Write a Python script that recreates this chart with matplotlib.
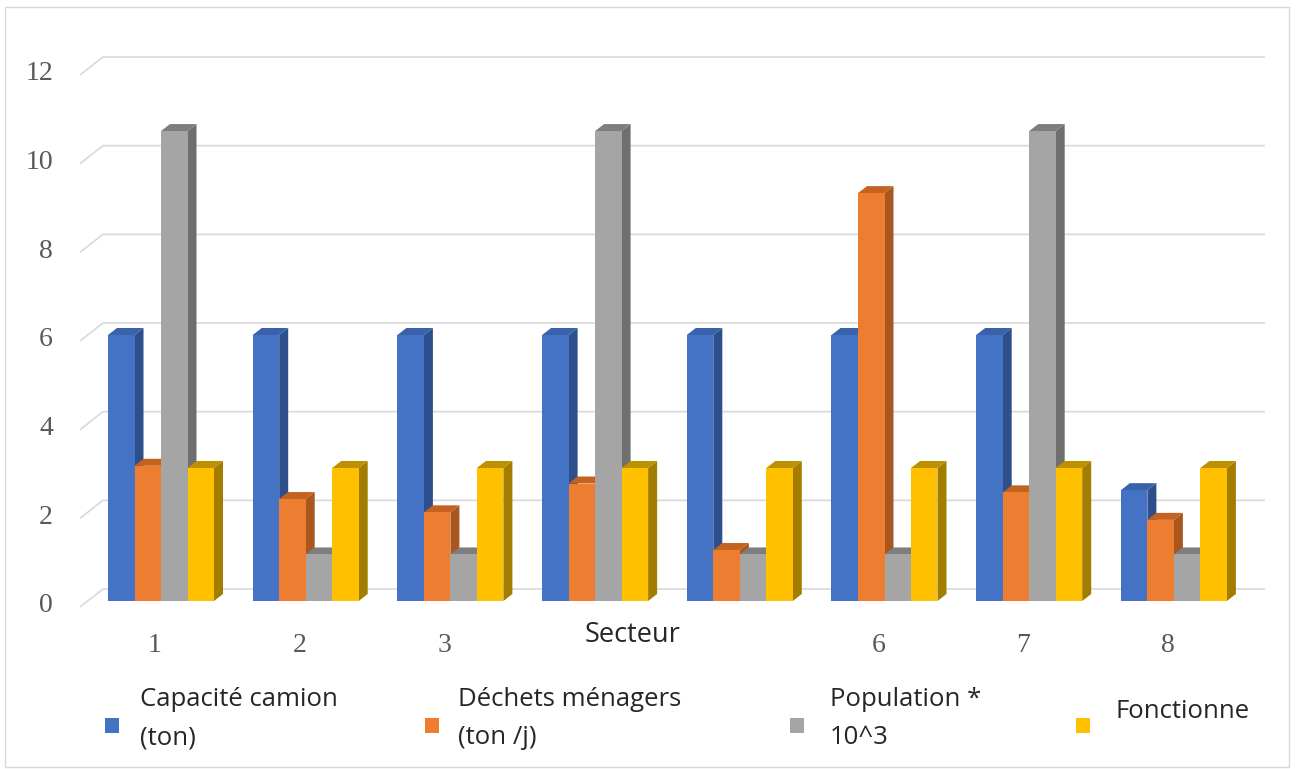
import matplotlib
matplotlib.use("Agg")
import matplotlib.pyplot as plt
from matplotlib.patches import Polygon, Rectangle
from matplotlib.transforms import offset_copy

# ---- data ----
sectors = ["1", "2", "3", "4", "5", "6", "7", "8"]
capacite = [6, 6, 6, 6, 6, 6, 6, 2.5]
dechets = [3.05, 2.3, 2.0, 2.65, 1.15, 9.2, 2.45, 1.83]
population = [10.6, 1.05, 1.05, 10.6, 1.05, 1.05, 10.6, 1.05]
fonctionne = [3, 3, 3, 3, 3, 3, 3, 3]

series = [capacite, dechets, population, fonctionne]
series_labels = ["Capacité camion\n(ton)", "Déchets ménagers\n(ton /j)",
                 "Population *\n10^3", "Fonctionne"]
# front, side, top colours of each series
front_cols = ["#4472C4", "#ED7D31", "#A5A5A5", "#FFC000"]
side_cols = ["#2D4F8C", "#A9561F", "#6F6F6F", "#A37D00"]
top_cols = ["#3A62AB", "#C4631F", "#7E7E7E", "#BE9100"]
yticks = [0, 2, 4, 6, 8, 10, 12]
shown_xlabels = ["1", "2", "3", "", "", "6", "7", "8"]

W, H = 1296, 769
fig = plt.figure(figsize=(W / 100, H / 100), dpi=100)
fig.patch.set_facecolor("white")

# plot area in pixels
px_left, px_right = 80, 1265
px_zero, px_top = 601, 69
ax = fig.add_axes([px_left / W, (H - px_zero) / H,
                   (px_right - px_left) / W, (px_zero - px_top) / H])
group_px = 144.7
first_center = 161
ax.set_xlim((px_left - first_center) / group_px, (px_right - first_center) / group_px)
ax.set_ylim(0, 12)
ax.axis("off")

# pixel -> data conversion
p0 = ax.transData.transform((0, 0))
p1 = ax.transData.transform((1, 1))
ux = p1[0] - p0[0]
uy = p1[1] - p0[1]
def dxp(px):
    return px / ux
def dyp(py):
    return py / uy

x_lo = ax.get_xlim()[0]
x_hi = ax.get_xlim()[1]
grid_col = "#D9D9D9"
for v in yticks:
    ax.plot([x_lo, x_lo + dxp(23), x_hi], [v - dyp(6), v + dyp(12), v + dyp(12)],
            color=grid_col, lw=1.2, zorder=0, clip_on=False,
            solid_capstyle="butt")
    ax.text(x_lo - dxp(27), v - dyp(5), str(v), ha="right", va="center",
            fontsize=20, color="#595959", family="Liberation Serif")

# 3D-looking columns
bw = 26.5 / group_px
ddx, ddy = dxp(9), dyp(7)
z = 2
for i in range(len(sectors)):
    for k, vals in enumerate(series):
        v = vals[i]
        xl = i + (k - 2) * bw
        xr = xl + bw
        ax.bar(xl, v, width=bw, align="edge", color=front_cols[k],
               edgecolor="none", zorder=z)
        ax.add_patch(Polygon([(xr, 0), (xr + ddx, ddy), (xr + ddx, v + ddy), (xr, v)],
                             closed=True, facecolor=side_cols[k], edgecolor="none",
                             zorder=z - 0.5))
        ax.add_patch(Polygon([(xl, v), (xl + ddx, v + ddy), (xr + ddx, v + ddy), (xr, v)],
                             closed=True, facecolor=top_cols[k], edgecolor="none",
                             zorder=z - 0.5))
        z += 1

# category labels
tr = offset_copy(ax.transData, fig=fig, x=-6, y=-44, units="dots")
for i, lab in enumerate(shown_xlabels):
    if lab:
        ax.text(i, 0, lab, transform=tr, ha="center", va="center",
                fontsize=20, color="#595959", family="Liberation Serif")

# axis title
ax.text(3.26, 0, "Secteur", transform=offset_copy(ax.transData, fig=fig, x=0, y=-34, units="dots"),
        ha="center", va="center", fontsize=19.5, color="#262626", family="Open Sans")

# legend
sq_x = [105, 425, 790, 1076]
txt_x = [140, 458, 830, 1116]
leg_fs = 18.5
for k in range(4):
    fig.patches.append(Rectangle((sq_x[k] / W, (H - 733) / H), 14 / W, 15 / H,
                                 transform=fig.transFigure, facecolor=front_cols[k],
                                 edgecolor="none"))
    lab = series_labels[k]
    if "\n" in lab:
        l1, l2 = lab.split("\n")
        fig.text(txt_x[k] / W, (H - 700) / H, l1, ha="left", va="center",
                 fontsize=leg_fs, color="#262626", family="Open Sans")
        fig.text(txt_x[k] / W, (H - 738) / H, l2, ha="left", va="center",
                 fontsize=leg_fs, color="#262626", family="Open Sans")
    else:
        fig.text(txt_x[k] / W, (H - 711) / H, lab, ha="left", va="center",
                 fontsize=leg_fs, color="#262626", family="Open Sans")

# chart border
fig.patches.append(Rectangle((5 / W, 2 / H), 1284 / W, 760 / H,
                             transform=fig.transFigure, facecolor="none",
                             edgecolor="#D9D9D9", lw=1))

fig.savefig("out.png", dpi=100)
